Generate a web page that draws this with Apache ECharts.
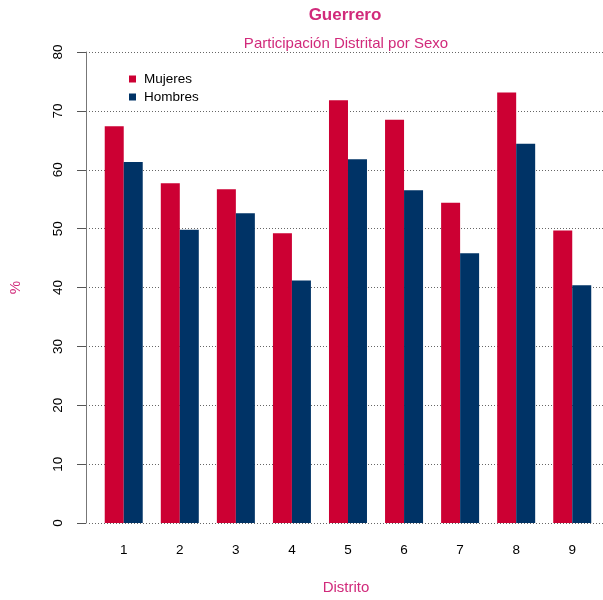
<!DOCTYPE html>
<html>
<head>
<meta charset="utf-8">
<script src="https://cdn.jsdelivr.net/npm/echarts@6/dist/echarts.min.js"></script>
<style>html,body{margin:0;padding:0;background:#fff;}#c{width:603px;height:600px;}</style>
</head>
<body>
<div id="c"></div>
<script>
const categories = [1, 2, 3, 4, 5, 6, 7, 8, 9];
const mujeres = [67.4, 57.7, 56.7, 49.2, 71.8, 68.5, 54.4, 73.1, 49.7];
const hombres = [61.3, 49.8, 52.6, 41.2, 61.8, 56.5, 45.8, 64.4, 40.4];
const yTicks = [0, 10, 20, 30, 40, 50, 60, 70, 80];

const pink = '#D12A7B';
const font = 'Liberation Sans';
const chart = echarts.init(document.getElementById('c'), null, {renderer: 'canvas'});
chart.setOption({
  animation: false,
  backgroundColor: '#fff',
  textStyle: {fontFamily: font},
  title: [
    {text: 'Guerrero', left: 345, top: 7, textAlign: 'center', padding: 0,
     textStyle: {color: pink, fontSize: 17, fontWeight: 'bold', fontFamily: font}},
    {text: 'Participación Distrital por Sexo', left: 346, top: 36, textAlign: 'center', padding: 0,
     textStyle: {color: pink, fontSize: 15, fontWeight: 'normal', fontFamily: font}}
  ],
  legend: {
    orient: 'vertical', left: 129, top: 72, padding: 0, itemWidth: 7, itemHeight: 7, itemGap: 4,
    icon: 'rect', textStyle: {fontSize: 13.5, color: '#000', fontFamily: font, padding: [0, 0, 0, 3]},
    data: ['Mujeres', 'Hombres']
  },
  grid: {left: 85, right: 0, top: 52, bottom: 74, containLabel: false},
  xAxis: {
    type: 'value', min: 0.3805, max: 9.5486,
    name: 'Distrito', nameLocation: 'middle', nameGap: 57,
    nameTextStyle: {color: pink, fontSize: 15, fontFamily: font},
    axisLine: {show: false}, axisTick: {show: false}, splitLine: {show: false},
    axisLabel: {customValues: categories, formatter: v => String(v), margin: 20,
                color: '#000', fontSize: 13.5, fontFamily: font}
  },
  yAxis: {
    type: 'value', min: 0, max: 80, interval: 10, offset: 3,
    name: '%', nameLocation: 'middle', nameGap: 63, nameRotate: 90,
    nameTextStyle: {color: pink, fontSize: 15, fontFamily: font},
    axisLine: {show: true, lineStyle: {color: '#777', width: 1}},
    axisTick: {show: true, length: 9, lineStyle: {color: '#555'}},
    axisLabel: {rotate: 90, margin: 21, color: '#000', fontSize: 13.5, fontFamily: font,
                customValues: yTicks},
    splitLine: {show: true, lineStyle: {color: '#666', type: [1, 2], width: 1}}
  },
  series: [
    {name: 'Mujeres', type: 'bar', barWidth: 19, barGap: '0%',
     itemStyle: {color: '#CC0033'},
     data: categories.map((c, i) => [c, mujeres[i]])},
    {name: 'Hombres', type: 'bar', barWidth: 19, barGap: '0%',
     itemStyle: {color: '#003366'},
     data: categories.map((c, i) => [c, hombres[i]])}
  ]
});
</script>
</body>
</html>
